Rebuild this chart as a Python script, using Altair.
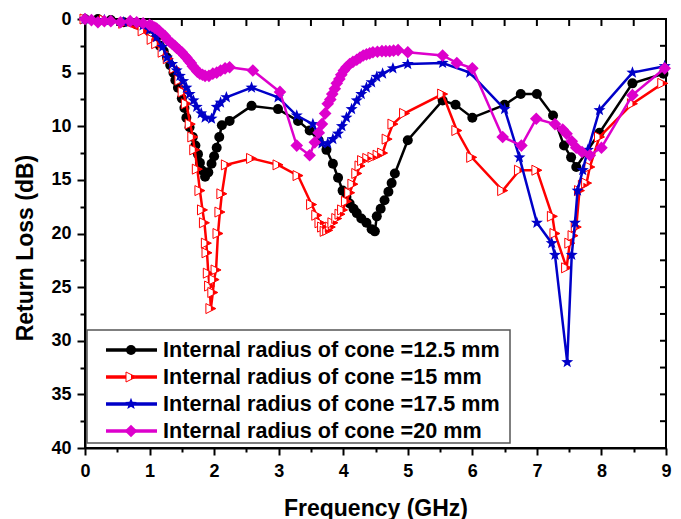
import math
import altair as alt
import pandas as pd

# ---------------- data ----------------
freq_12_5 = [0.0, 0.2, 0.4, 0.6, 0.8, 1.0, 1.1, 1.16, 1.22, 1.27, 1.32, 1.37, 1.40, 1.44, 1.50, 1.54,
             1.57, 1.62, 1.67, 1.71, 1.75, 1.78, 1.81, 1.86, 1.91, 1.96, 2.00, 2.04, 2.08, 2.12,
             2.24, 2.58, 2.99, 3.30, 3.48, 3.62, 3.74, 3.84, 3.92, 3.99, 4.05, 4.10, 4.16, 4.21,
             4.28, 4.36, 4.44, 4.49, 4.52, 4.58, 4.64, 4.70, 4.75, 4.80, 5.00, 5.54, 5.74, 6.00,
             6.50, 6.75, 7.00, 7.25, 7.42, 7.53, 7.61, 7.97, 8.48, 8.96]
rl_12_5 = [0.0, 0.0, 0.1, 0.3, 0.5, 0.9, 1.8, 2.5, 3.0, 3.6, 4.3, 5.0, 5.7, 6.4, 7.4, 8.3,
           9.2, 10.1, 11.0, 11.8, 12.6, 13.4, 14.1, 14.7, 14.3, 13.5, 12.8, 12.0, 11.0, 9.9,
           9.5, 8.1, 8.4, 9.5, 10.4, 11.3, 12.2, 13.5, 14.8, 16.0, 16.6, 17.2, 17.7, 18.1,
           18.6, 19.0, 19.6, 19.8, 18.4, 17.7, 16.9, 16.1, 15.3, 14.4, 11.3, 7.6, 8.0, 9.2,
           8.0, 7.0, 7.0, 9.0, 11.8, 12.9, 13.8, 10.6, 6.0, 5.1]

freq_15 = [0.0, 0.3, 0.6, 0.9, 1.04, 1.11, 1.21, 1.29, 1.39, 1.47, 1.52, 1.57, 1.63, 1.67, 1.70,
           1.74, 1.78, 1.82, 1.85, 1.88, 1.89, 1.91, 1.93, 1.95, 1.98, 2.00, 2.03, 2.06, 2.09,
           2.12, 2.19, 2.58, 2.99, 3.30, 3.51, 3.59, 3.64, 3.68, 3.72, 3.76, 3.80, 3.84, 3.90,
           3.95, 3.99, 4.05, 4.10, 4.15, 4.21, 4.26, 4.30, 4.38, 4.46, 4.54, 4.61, 4.68, 4.77,
           4.95, 5.54, 5.76, 5.99, 6.47, 6.73, 7.00, 7.24, 7.28, 7.46, 7.51, 7.56, 7.61, 7.66,
           7.72, 7.77, 7.82, 7.97, 8.48, 8.95]
rl_15 = [0.0, 0.1, 0.4, 1.1, 1.9, 2.3, 3.1, 3.7, 4.6, 5.7, 6.8, 7.9, 9.8, 11.0, 12.2,
         14.0, 16.0, 17.8, 19.0, 20.9, 21.8, 23.7, 24.9, 27.0, 25.5, 24.3, 23.4, 20.0, 18.0,
         16.3, 13.6, 13.0, 13.6, 14.6, 17.3, 18.3, 19.0, 19.4, 19.8, 19.7, 19.4, 19.0, 18.6,
         18.2, 17.8, 17.0, 16.2, 15.4, 14.4, 13.7, 13.2, 13.0, 12.9, 12.7, 12.5, 11.2, 9.8,
         8.8, 7.0, 10.4, 12.9, 16.0, 14.1, 14.1, 18.4, 20.0, 23.2, 20.9, 20.2, 19.4, 16.0,
         15.5, 15.3, 13.8, 11.0, 7.9, 6.0]

freq_17_5 = [0.0, 0.3, 0.6, 0.9, 1.0, 1.11, 1.2, 1.27, 1.35, 1.42, 1.47, 1.52, 1.57, 1.62, 1.68,
             1.73, 1.80, 1.86, 1.96, 2.04, 2.10, 2.19, 2.58, 2.99, 3.28, 3.53, 3.62, 3.67, 3.76,
             3.84, 3.92, 3.98, 4.05, 4.13, 4.21, 4.28, 4.36, 4.44, 4.52, 4.61, 4.77, 5.00, 5.54,
             5.96, 6.50, 6.73, 7.00, 7.23, 7.28, 7.47, 7.54, 7.59, 7.63, 7.71, 7.79, 7.97, 8.48,
             8.98]
rl_17_5 = [0.0, 0.1, 0.3, 0.6, 1.0, 1.7, 2.6, 3.6, 4.2, 4.8, 5.3, 5.8, 6.4, 7.0, 7.6,
           8.2, 8.8, 9.2, 9.3, 8.2, 7.8, 7.3, 6.4, 7.3, 9.0, 9.8, 10.8, 11.6, 11.6,
           11.2, 10.7, 10.0, 9.2, 8.4, 7.6, 7.0, 6.4, 5.9, 5.4, 5.1, 4.6, 4.2, 4.1,
           5.0, 8.4, 12.9, 19.0, 20.9, 22.0, 32.0, 22.0, 19.0, 16.0, 14.1, 12.2, 8.5, 5.0,
           4.4]

freq_20 = [0.0, 0.1, 0.2, 0.3, 0.4, 0.55, 0.7, 0.8, 0.9, 1.0, 1.04, 1.08, 1.11, 1.15, 1.2, 1.24,
           1.27, 1.31, 1.35, 1.39, 1.42, 1.46, 1.50, 1.54, 1.57, 1.61, 1.64, 1.67, 1.70, 1.74,
           1.78, 1.82, 1.86, 1.92, 1.98, 2.04, 2.10, 2.17, 2.24, 2.60, 3.02, 3.28, 3.48, 3.56,
           3.62, 3.67, 3.72, 3.76, 3.80, 3.83, 3.87, 3.90, 3.94, 3.97, 4.01, 4.05, 4.10, 4.15,
           4.21, 4.26, 4.31, 4.36, 4.41, 4.46, 4.53, 4.60, 4.66, 4.72, 4.78, 4.85, 5.00, 5.54,
           5.76, 6.00, 6.47, 6.76, 6.99, 7.28, 7.40, 7.46, 7.54, 7.61, 7.70, 7.82, 8.00, 8.48,
           8.98]
rl_20 = [0.0, 0.1, 0.3, 0.2, 0.2, 0.3, 0.2, 0.3, 0.4, 0.55, 0.65, 0.8, 0.9, 1.1, 1.4, 1.6,
         1.9, 2.1, 2.3, 2.5, 2.7, 2.9, 3.1, 3.4, 3.6, 3.9, 4.1, 4.4, 4.6, 4.9,
         5.1, 5.2, 5.3, 5.3, 5.1, 5.0, 4.8, 4.6, 4.5, 4.8, 6.8, 11.8, 12.7, 11.5,
         10.6, 9.8, 8.8, 7.9, 7.5, 7.0, 6.5, 6.0, 5.6, 5.2, 4.8, 4.5, 4.2, 4.0,
         3.8, 3.6, 3.4, 3.3, 3.2, 3.1, 3.05, 3.0, 3.0, 3.0, 2.95, 2.9, 3.1, 3.4,
         4.1, 4.6, 11.0, 11.8, 9.3, 9.8, 10.3, 10.7, 11.4, 12.0, 12.4, 12.7, 12.0, 7.1,
         4.6]

labels = ["Internal radius of cone =12.5 mm", "Internal radius of cone =15 mm",
          "Internal radius of cone =17.5 mm", "Internal radius of cone =20 mm"]

x_major = [0, 1, 2, 3, 4, 5, 6, 7, 8, 9]
x_minor = [0.5, 1.5, 2.5, 3.5, 4.5, 5.5, 6.5, 7.5, 8.5]
x_top = [0.5, 1, 1.5, 2, 2.5, 3, 3.5, 4, 4.5, 5, 5.5, 6, 6.5, 7, 7.5, 8, 8.5]
y_major = [0, 5, 10, 15, 20, 25, 30, 35, 40]
y_minor = [2.5, 7.5, 12.5, 17.5, 22.5, 27.5, 32.5, 37.5]
y_right = [2.5, 5, 7.5, 10, 12.5, 15, 17.5, 20, 22.5, 25, 27.5, 30, 32.5, 35, 37.5]

# ---------------- styling ----------------
FONT = "Liberation Sans"
W, H = 581, 429
colors = ["#000000", "#ff0000", "#0000c8", "#dd00cc"]


def star_path(n=5, ro=1.0, ri=0.42):
    pts = []
    for k in range(2 * n):
        r = ro if k % 2 == 0 else ri
        a = math.radians(-90 + k * 180 / n)
        pts.append(f"{r * math.cos(a):.3f},{r * math.sin(a):.3f}")
    return "M" + "L".join(pts) + "Z"


TRI = "M-1,-1L1,0L-1,1Z"
TRI_HALF = "M0,-0.5L1,0L0,0.5Z"
STAR = star_path()

xs = alt.Scale(domain=[0, 9], nice=False, zero=False)
ys = alt.Scale(domain=[0, 40], reverse=True, nice=False, zero=False)


def marker_marks(chart, k):
    c = colors[k]
    if k == 0:
        return [chart.mark_point(shape="circle", filled=True, size=100, color=c, opacity=1)]
    if k == 1:
        return [chart.mark_point(shape=TRI, filled=True, fill="white", stroke=c, strokeWidth=1,
                                 size=100, opacity=1),
                chart.mark_point(shape=TRI_HALF, filled=True, color=c, size=100, opacity=1)]
    if k == 2:
        return [chart.mark_point(shape=STAR, filled=True, size=160, color=c, opacity=1)]
    return [chart.mark_point(shape="diamond", filled=True, size=160, color=c, opacity=1)]


series = [(freq_12_5, rl_12_5), (freq_15, rl_15), (freq_17_5, rl_17_5), (freq_20, rl_20)]

layers = []

# axis carriers (major + minor ticks)
df0 = pd.DataFrame({"f": freq_12_5, "v": rl_12_5})
major = alt.Chart(df0).mark_point(opacity=0).encode(
    x=alt.X("f:Q", scale=xs, axis=alt.Axis(
        orient="bottom", values=x_major, format="d", tickSize=7, tickWidth=2, tickColor="black",
        domainWidth=2, domainColor="black", grid=False,
        labelFont=FONT, labelFontSize=18, labelFontWeight="bold", labelColor="black",
        labelPadding=7, labelFlush=False,
        title="Frequency (GHz)", titleFont=FONT, titleFontSize=23, titleFontWeight="bold",
        titleColor="black", titleX=290.5, titleY=67, titleBaseline="alphabetic")),
    y=alt.Y("v:Q", scale=ys, axis=alt.Axis(
        orient="left", values=y_major, format="d", tickSize=8, tickWidth=2, tickColor="black",
        domainWidth=2, domainColor="black", grid=False,
        labelFont=FONT, labelFontSize=18, labelFontWeight="bold", labelColor="black",
        labelPadding=6, labelFlush=False,
        title="Return Loss (dB)", titleFont=FONT, titleFontSize=23, titleFontWeight="bold",
        titleColor="black", titleX=-53, titleY=228.5, titleBaseline="alphabetic")),
)
minor = alt.Chart(df0).mark_point(opacity=0).encode(
    x=alt.X("f:Q", scale=xs, axis=alt.Axis(
        orient="bottom", values=x_minor, tickSize=4, tickWidth=2, tickColor="black",
        domain=False, labels=False, grid=False, title=None)),
    y=alt.Y("v:Q", scale=ys, axis=alt.Axis(
        orient="left", values=y_minor, tickSize=5, tickWidth=2, tickColor="black",
        domain=False, labels=False, grid=False, title=None)),
)
layers += [major, minor]

# inward ticks on top and right frame
top_df = pd.DataFrame({"f": x_top})
layers.append(alt.Chart(top_df).mark_rule(color="black", strokeWidth=2).encode(
    x=alt.X("f:Q", scale=xs, axis=None), y=alt.value(0), y2=alt.value(7)))
right_df = pd.DataFrame({"v": y_right})
layers.append(alt.Chart(right_df).mark_rule(color="black", strokeWidth=2).encode(
    y=alt.Y("v:Q", scale=ys, axis=None), x=alt.value(W - 6), x2=alt.value(W)))

# series
for k, (f, v) in enumerate(series):
    d = pd.DataFrame({"f": f, "v": v, "i": list(range(len(f)))})
    base = alt.Chart(d).encode(
        x=alt.X("f:Q", scale=xs, axis=None),
        y=alt.Y("v:Q", scale=ys, axis=None),
        order=alt.Order("i:Q"),
    )
    layers.append(base.mark_line(color=colors[k], strokeWidth=2.5))
    layers += marker_marks(base, k)

# legend (manual, inside the plot)
one = pd.DataFrame({"a": [0]})
layers.append(alt.Chart(one).mark_rect(fill="white", stroke="#555555", strokeWidth=1.5).encode(
    x=alt.value(2), x2=alt.value(425), y=alt.value(311), y2=alt.value(424)))
row_y = [331, 358, 385, 412]
for k, lab in enumerate(labels):
    ld = pd.DataFrame({"label": [lab]})
    lb = alt.Chart(ld)
    layers.append(lb.mark_rule(color=colors[k], strokeWidth=3.5).encode(
        x=alt.value(21), x2=alt.value(72), y=alt.value(row_y[k])))
    pb = lb.encode(x=alt.value(46), y=alt.value(row_y[k]))
    layers += marker_marks(pb, k)
    layers.append(lb.mark_text(align="left", baseline="middle", font=FONT, fontSize=21.6,
                               fontWeight="bold", color="black").encode(
        x=alt.value(78), y=alt.value(row_y[k] + 1), text="label:N"))

chart = alt.layer(*layers).resolve_axis(x="independent", y="independent").properties(
    width=W, height=H,
    autosize=alt.AutoSizeParams(type="none"),
    padding={"left": 85, "top": 19, "right": 15, "bottom": 71},
    background="white",
).configure_view(stroke="black", strokeWidth=2)

chart.save("out.html", embed_options={"renderer": "svg", "actions": False})
